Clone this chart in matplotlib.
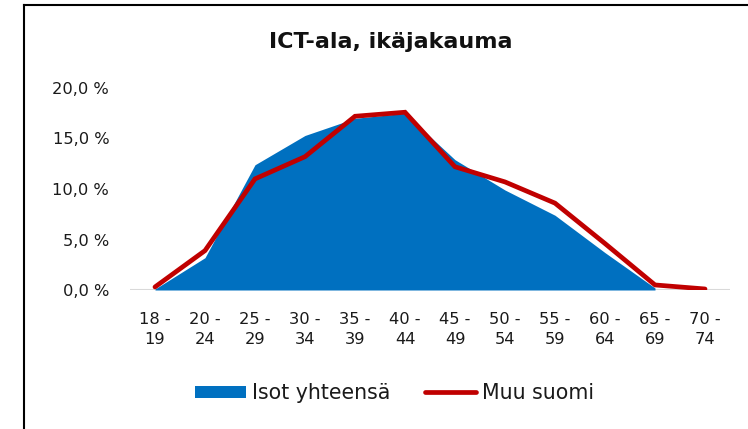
import matplotlib.pyplot as plt
import numpy as np
from matplotlib.lines import Line2D
from matplotlib.patches import Patch

plt.rcParams['font.family'] = ['DejaVu Sans']

ages = ["18 -\n19", "20 -\n24", "25 -\n29", "30 -\n34", "35 -\n39", "40 -\n44",
        "45 -\n49", "50 -\n54", "55 -\n59", "60 -\n64", "65 -\n69", "70 -\n74"]
isot = [0.1, 3.2, 12.4, 15.3, 17.0, 17.5, 12.9, 9.9, 7.4, 3.7, 0.2, 0.0]
muu = [0.3, 3.9, 11.0, 13.2, 17.2, 17.6, 12.2, 10.7, 8.6, 4.6, 0.5, 0.1]
yticks = [0, 5, 10, 15, 20]

BLUE = "#0070C0"
RED = "#C00000"

fig = plt.figure(figsize=(7.48, 4.29), dpi=100)
ax = fig.add_axes([130/748, 1 - 290/429, 600/748, 202/429])

x = np.arange(len(ages))
ax.fill_between(x[:11], 0, isot[:11], color=BLUE, lw=0, zorder=2)
ax.plot(x, muu, color=RED, lw=3.4, solid_joinstyle='miter', solid_capstyle='round', zorder=3)
ax.axhline(0, color="#d9d9d9", lw=1.5, zorder=1)

ax.set_xlim(-0.5, len(ages) - 0.5)
ax.set_ylim(0, 20)
ax.set_yticks(yticks)
ax.set_yticklabels([f"{v:.1f}".replace(".", ",") + " %" for v in yticks])
ax.set_xticks(x)
ax.set_xticklabels(ages, linespacing=1.4)
ax.tick_params(axis='both', length=0, labelsize=11.7, colors="#1a1a1a")
ax.tick_params(axis='x', pad=16)
ax.tick_params(axis='y', pad=15)
for s in ax.spines.values():
    s.set_visible(False)

fig.text(391/748, 1 - 48.5/429, "ICT-ala, ikäjakauma", ha='center', va='baseline',
         fontsize=16, fontweight='bold', color="#111111")

handles = [Patch(facecolor=BLUE, edgecolor='none', label="Isot yhteensä"),
           Line2D([0], [0], color=RED, lw=3.4, solid_capstyle='round', label="Muu suomi")]
fig.legend(handles=handles, loc='center', bbox_to_anchor=(394.5/748, 1 - 393/429), ncol=2,
           frameon=False, fontsize=14.8, handlelength=2.5, handleheight=0.53,
           handletextpad=0.3, columnspacing=1.65, labelcolor="#1a1a1a")

# chart border (left and top only are visible)
fig.add_artist(Line2D([24/748, 24/748], [0, 1 - 4.5/429], color='black', lw=1.5,
                      transform=fig.transFigure))
fig.add_artist(Line2D([24/748, 1], [1 - 4.5/429, 1 - 4.5/429], color='black', lw=1.5,
                      transform=fig.transFigure))

fig.savefig("out.png", dpi=100)
